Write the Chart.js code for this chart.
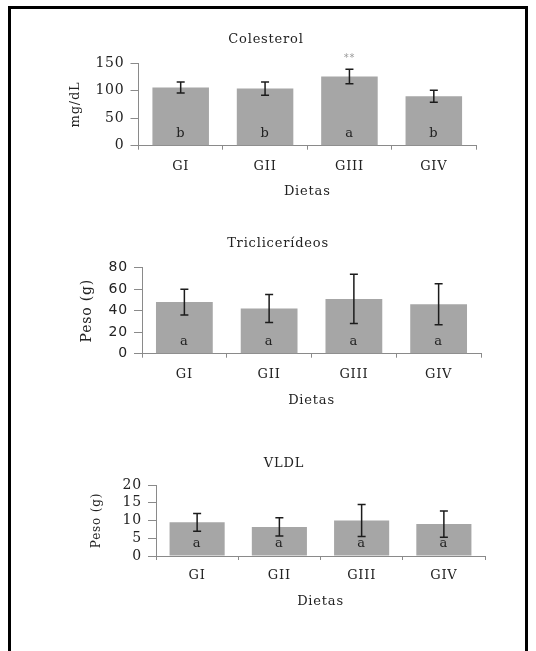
<!DOCTYPE html>
<html>
<head>
<meta charset="utf-8">
<script src="https://cdn.jsdelivr.net/npm/chart.js@4.4.1/dist/chart.umd.min.js"></script>
<style>
  html, body { margin: 0; padding: 0; background: #fff; width: 536px; height: 651px; overflow: hidden; }
  #frame { position: absolute; left: 8px; top: 6px; width: 520px; height: 700px;
           border-left: 3px solid #000; border-top: 3px solid #000; border-right: 3px solid #000; box-sizing: border-box; }
  canvas { position: absolute; }
</style>
</head>
<body>
<div id="frame"></div>
<canvas id="c1"></canvas>
<canvas id="c2"></canvas>
<canvas id="c3"></canvas>
<script>
// ---- data ----
const categories = ['GI', 'GII', 'GIII', 'GIV'];

const colesterolValues = [106, 104, 126, 90];
const colesterolErrors = [10, 12, 13, 11];
const colesterolLetters = ['b', 'b', 'a', 'b'];
const colesterolMarks = ['', '', '**', ''];
const colesterolTicks = { min: 0, max: 150, step: 50 };

const trigValues = [48, 42, 51, 46];
const trigErrors = [12, 13, 23, 19];
const trigLetters = ['a', 'a', 'a', 'a'];
const trigMarks = ['', '', '', ''];
const trigTicks = { min: 0, max: 80, step: 20 };

const vldlValues = [9.5, 8.2, 10, 9];
const vldlErrors = [2.5, 2.6, 4.5, 3.7];
const vldlLetters = ['a', 'a', 'a', 'a'];
const vldlMarks = ['', '', '', ''];
const vldlTicks = { min: 0, max: 20, step: 5 };

// ---- plugin: error bars, letters, significance marks ----
const annot = {
  id: 'annot',
  beforeDraw(chart) {
    chart.ctx.letterSpacing = '0.8px';
  },
  afterDatasetsDraw(chart, args, opts) {
    const ctx = chart.ctx;
    const meta = chart.getDatasetMeta(0);
    const y = chart.scales.y;
    ctx.save();
    meta.data.forEach((bar, i) => {
      const v = opts.values[i], e = opts.errors[i];
      const yt = y.getPixelForValue(v + e), yb = y.getPixelForValue(v - e);
      ctx.strokeStyle = '#1c1c1c';
      ctx.lineWidth = 1.5;
      ctx.beginPath();
      ctx.moveTo(bar.x, yt); ctx.lineTo(bar.x, yb);
      ctx.moveTo(bar.x - 4, yt); ctx.lineTo(bar.x + 4, yt);
      ctx.moveTo(bar.x - 4, yb); ctx.lineTo(bar.x + 4, yb);
      ctx.stroke();
      ctx.fillStyle = '#222';
      ctx.font = '13px "DejaVu Serif"';
      ctx.textAlign = 'center';
      ctx.textBaseline = 'middle';
      ctx.fillText(opts.letters[i], bar.x, y.getPixelForValue(0) - 12.5);
      if (opts.marks[i]) {
        ctx.fillStyle = '#9a9a9a';
        ctx.font = '10px "DejaVu Sans"';
        ctx.fillText(opts.marks[i], bar.x, yt - 11);
      }
    });
    ctx.restore();
  }
};

function makeChart(id, p) {
  const cv = document.getElementById(id);
  cv.width = p.w; cv.height = p.h;
  cv.style.left = p.left + 'px'; cv.style.top = p.top + 'px';
  cv.style.width = p.w + 'px'; cv.style.height = p.h + 'px';
  const axisColor = '#8a8a8a';
  return new Chart(cv, {
    type: 'bar',
    data: {
      labels: categories,
      datasets: [{
        data: p.values,
        backgroundColor: '#a6a6a6',
        borderWidth: 0,
        barPercentage: 0.67,
        categoryPercentage: 1.0
      }]
    },
    options: {
      responsive: false,
      animation: false,
      devicePixelRatio: 1,
      layout: { autoPadding: false, padding: { left: 0, right: 2, top: 0, bottom: p.padBottom } },
      plugins: {
        legend: { display: false },
        tooltip: { enabled: false },
        title: {
          display: true, text: p.title, color: '#222',
          font: { family: 'DejaVu Serif', size: 13, weight: 'normal' },
          padding: { top: p.titleTop, bottom: p.titleBottom }
        },
        annot: { values: p.values, errors: p.errors, letters: p.letters, marks: p.marks }
      },
      scales: {
        x: {
          afterFit: (s) => { s.height = p.xHeight; },
          grid: { display: true, drawOnChartArea: false, drawTicks: true, tickLength: 4, color: axisColor, offset: true },
          border: { display: true, color: axisColor, width: 1 },
          ticks: { color: '#222', padding: p.xTickPad, font: { family: 'DejaVu Serif', size: 13 } },
          title: { display: true, text: 'Dietas', color: '#222', padding: 0,
                   font: { family: 'DejaVu Serif', size: 13 } }
        },
        y: {
          min: p.ticks.min, max: p.ticks.max,
          afterFit: (s) => { s.width = p.yWidth; },
          grid: { display: true, drawOnChartArea: false, drawTicks: true, tickLength: 8, color: axisColor },
          border: { display: true, color: axisColor, width: 1 },
          ticks: { stepSize: p.ticks.step, autoSkip: false, color: '#222', padding: 6,
                   font: { family: p.tickFamily, size: 14 } },
          title: { display: true, text: p.yTitle, color: '#222', padding: { top: p.yTitlePad, bottom: 0 },
                   font: { family: 'DejaVu Serif', size: p.yTitleSize } }
        }
      }
    },
    plugins: [annot]
  });
}

makeChart('c1', {
  left: 56, top: 0, w: 422, h: 205, padBottom: 5.3,
  title: 'Colesterol', titleTop: 32.2, titleBottom: 15.5,
  yTitle: 'mg/dL', yTitleSize: 13, yTitlePad: 12.2, yWidth: 82.5,
  xHeight: 54, xTickPad: 8.8, tickFamily: 'DejaVu Serif',
  values: colesterolValues, errors: colesterolErrors, letters: colesterolLetters, marks: colesterolMarks,
  ticks: colesterolTicks
});

makeChart('c2', {
  left: 75, top: 210, w: 408, h: 200, padBottom: 1.5,
  title: 'Triclicerídeos', titleTop: 25.7, titleBottom: 16.4,
  yTitle: 'Peso (g)', yTitleSize: 14, yTitlePad: 3.6, yWidth: 67,
  xHeight: 54.8, xTickPad: 8.7, tickFamily: 'DejaVu Sans',
  values: trigValues, errors: trigErrors, letters: trigLetters, marks: trigMarks,
  ticks: trigTicks
});

makeChart('c3', {
  left: 83, top: 415, w: 404, h: 236, padBottom: 42,
  title: 'VLDL', titleTop: 41.2, titleBottom: 13.2,
  yTitle: 'Peso (g)', yTitleSize: 12, yTitlePad: 6.3, yWidth: 73,
  xHeight: 53, xTickPad: 7.6, tickFamily: 'DejaVu Serif',
  values: vldlValues, errors: vldlErrors, letters: vldlLetters, marks: vldlMarks,
  ticks: vldlTicks
});
</script>
</body>
</html>
